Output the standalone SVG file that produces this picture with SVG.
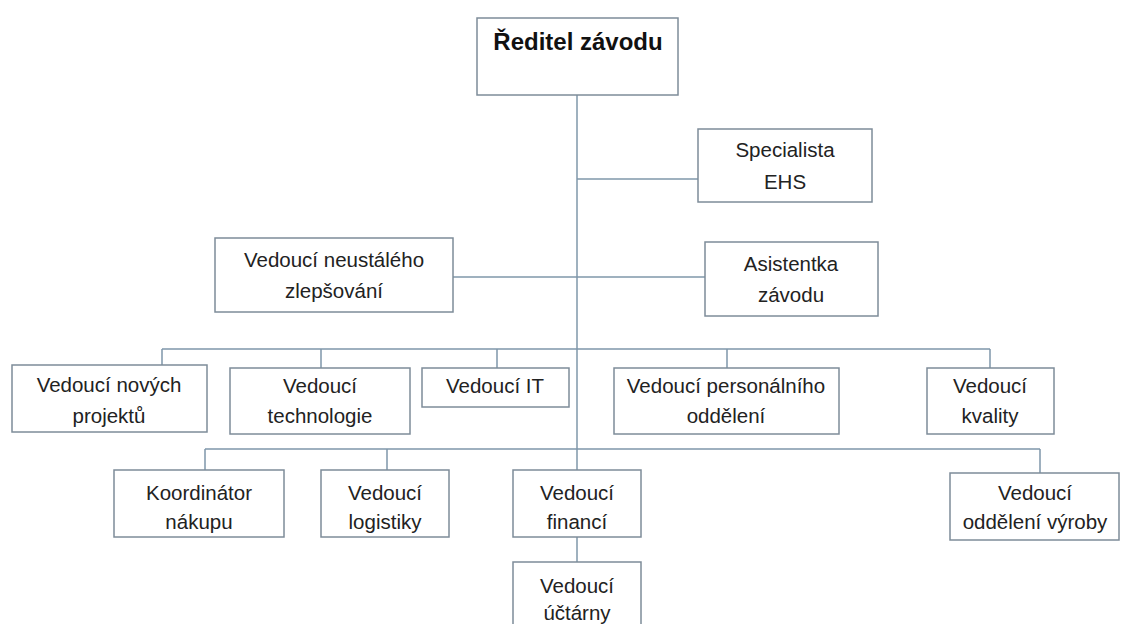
<svg xmlns="http://www.w3.org/2000/svg" width="1121" height="624" viewBox="0 0 1121 624">
<style>
.box{fill:#ffffff;stroke:#7e8c99;stroke-width:1.5}
.ln{fill:none;stroke:#7f97aa;stroke-width:1.5}
text{font-family:"Liberation Sans",Arial,sans-serif;font-size:20.5px;fill:#222222;text-anchor:middle}
.title{font-weight:bold;font-size:24px;fill:#111111}
</style>
<rect width="1121" height="624" fill="#ffffff"/>
<g id="connectors">
<path class="ln" d="M577 95 V562"/>
<path class="ln" d="M577 179 H698"/>
<path class="ln" d="M453 277 H705"/>
<path class="ln" d="M162 349 H990 M162 349 V365 M321 349 V368 M497 349 V368 M727 349 V368 M990 349 V368"/>
<path class="ln" d="M205 449 H1040 M205 449 V470 M387 449 V470 M1040 449 V473"/>
</g>
<g id="n-reditel"><rect class="box" x="477" y="18" width="201" height="77"/><text class="title" x="578" y="50">Ředitel závodu</text></g>
<g id="n-specialista"><rect class="box" x="698" y="129" width="174" height="73"/><text x="785" y="157">Specialista</text><text x="785" y="189">EHS</text></g>
<g id="n-zlepsovani"><rect class="box" x="215" y="238" width="238" height="74"/><text x="334" y="267">Vedoucí neustálého</text><text x="334" y="298">zlepšování</text></g>
<g id="n-asistentka"><rect class="box" x="705" y="242" width="173" height="74"/><text x="791" y="271">Asistentka</text><text x="791" y="302">závodu</text></g>
<g id="n-projekty"><rect class="box" x="12" y="365" width="195" height="67"/><text x="109" y="392">Vedoucí nových</text><text x="109" y="423">projektů</text></g>
<g id="n-technologie"><rect class="box" x="230" y="368" width="180" height="66"/><text x="320" y="393">Vedoucí</text><text x="320" y="423">technologie</text></g>
<g id="n-it"><rect class="box" x="422" y="368" width="147" height="39"/><text x="495" y="393">Vedoucí IT</text></g>
<g id="n-personalni"><rect class="box" x="614" y="368" width="225" height="66"/><text x="726" y="393">Vedoucí personálního</text><text x="726" y="423">oddělení</text></g>
<g id="n-kvalita"><rect class="box" x="927" y="368" width="127" height="66"/><text x="990" y="393">Vedoucí</text><text x="990" y="423">kvality</text></g>
<g id="n-nakup"><rect class="box" x="114" y="470" width="170" height="67"/><text x="199" y="500">Koordinátor</text><text x="199" y="529">nákupu</text></g>
<g id="n-logistika"><rect class="box" x="321" y="470" width="128" height="67"/><text x="385" y="500">Vedoucí</text><text x="385" y="529">logistiky</text></g>
<g id="n-finance"><rect class="box" x="513" y="470" width="128" height="67"/><text x="577" y="500">Vedoucí</text><text x="577" y="529">financí</text></g>
<g id="n-uctarna"><rect class="box" x="513" y="562" width="128" height="70"/><text x="577" y="593">Vedoucí</text><text x="577" y="620">účtárny</text></g>
<g id="n-vyroba"><rect class="box" x="950" y="473" width="169" height="67"/><text x="1035" y="500">Vedoucí</text><text x="1035" y="529">oddělení výroby</text></g>
</svg>
